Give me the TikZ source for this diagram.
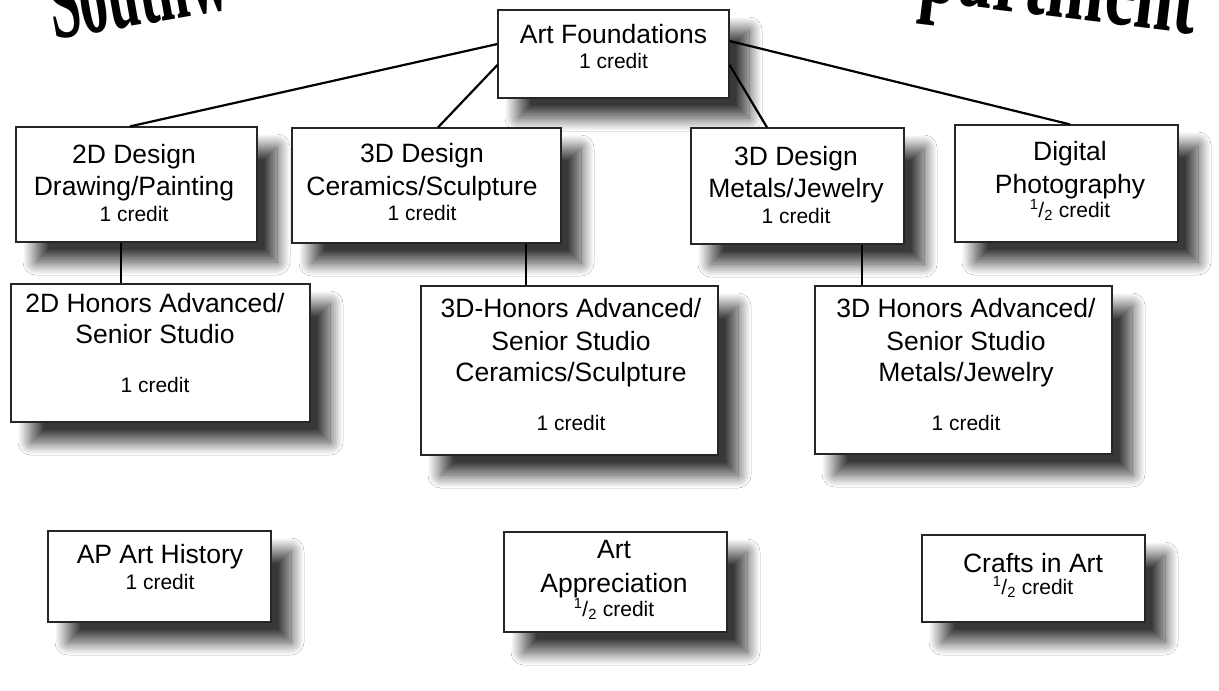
\documentclass[tikz,border=0pt]{standalone}
\usepackage{fontspec}
\usepackage{graphicx}
\setmainfont{Liberation Sans}
\newfontfamily\titlefont{Liberation Serif}
\usetikzlibrary{shadows.blur}
\newcommand\halfcr{\textsuperscript{1}/\textsubscript{2} credit}
\tikzset{
  box/.style={rectangle, draw=black!85, line width=1.2pt, fill=white, inner sep=0pt,
    blur shadow={shadow xshift=20pt, shadow yshift=-20pt, shadow blur radius=13pt, shadow blur steps=24, shadow opacity=78}},
  big/.style={anchor=base, inner sep=0pt, font=\fontsize{26.5}{30}\selectfont},
  small/.style={anchor=base, inner sep=0pt, font=\fontsize{21}{24}\selectfont},
  link/.style={line width=2.2pt, black},
  ttl/.style={inner sep=0pt, font=\titlefont\bfseries\fontsize{110}{110}\selectfont},
}
\begin{document}
\begin{tikzpicture}[x=1pt,y=-1pt]
\useasboundingbox (0,0) rectangle (1219,691);
\clip (0,0) rectangle (1219,691);
\fill[white] (0,0) rectangle (1219,691);

% title (clipped at top)
\node[ttl, anchor=base west, rotate=10] (titleL) at (54,40) {\scalebox{0.51}[1]{Southw}};
\node[ttl, anchor=base east, rotate=-7] (titleR) at (1194,34) {\scalebox{0.63}[1]{partment}};

% boxes
\node[box, minimum width=231pt, minimum height=88pt]  (af) at (613.5,54) {};
\node[box, minimum width=241pt, minimum height=115pt] (d2) at (136.5,184.5) {};
\node[box, minimum width=269pt, minimum height=115pt] (c3) at (426.5,185.5) {};
\node[box, minimum width=213pt, minimum height=116pt] (m3) at (797.5,186) {};
\node[box, minimum width=223pt, minimum height=117pt] (dp) at (1066.5,183.5) {};
\node[box, minimum width=299pt, minimum height=138pt] (h2) at (160.5,353) {};
\node[box, minimum width=297pt, minimum height=169pt] (hc) at (569.5,370.5) {};
\node[box, minimum width=297pt, minimum height=168pt] (hm) at (963.5,370) {};
\node[box, minimum width=223pt, minimum height=91pt]  (ap) at (159.5,576.5) {};
\node[box, minimum width=223pt, minimum height=100pt] (aa) at (615.5,582) {};
\node[box, minimum width=223pt, minimum height=87pt]  (ca) at (1033.5,578.5) {};

% texts
\node[big]   (afa) at (613.5,43) {Art Foundations};
\node[small] (afb) at (613.5,68) {1 credit};

\node[big]   (d2a) at (134,163) {2D Design};
\node[big]   (d2b) at (134,195) {Drawing/Painting};
\node[small] (d2c) at (134,221) {1 credit};

\node[big]   (c3a) at (422,162) {3D Design};
\node[big]   (c3b) at (422,195) {Ceramics/Sculpture};
\node[small] (c3c) at (422,220) {1 credit};

\node[big]   (m3a) at (796,165) {3D Design};
\node[big]   (m3b) at (796,197) {Metals/Jewelry};
\node[small] (m3c) at (796,223) {1 credit};

\node[big]   (dpa) at (1070,160) {Digital};
\node[big]   (dpb) at (1070,193) {Photography};
\node[small] (dpc) at (1070,217) {\halfcr};

\node[big]   (h2a) at (155,312) {2D Honors Advanced/};
\node[big]   (h2b) at (155,343) {Senior Studio};
\node[small] (h2c) at (155,392) {1 credit};

\node[big]   (hca) at (571,317) {3D-Honors Advanced/};
\node[big]   (hcb) at (571,350) {Senior Studio};
\node[big]   (hcc) at (571,381) {Ceramics/Sculpture};
\node[small] (hcd) at (571,430) {1 credit};

\node[big]   (hma) at (966,317) {3D Honors Advanced/};
\node[big]   (hmb) at (966,350) {Senior Studio};
\node[big]   (hmc) at (966,381) {Metals/Jewelry};
\node[small] (hmd) at (966,430) {1 credit};

\node[big]   (apa) at (160,563) {AP Art History};
\node[small] (apb) at (160,589) {1 credit};

\node[big]   (aaa) at (614,558) {Art};
\node[big]   (aab) at (614,592) {Appreciation};
\node[small] (aac) at (614,616) {\halfcr};

\node[big]   (caa) at (1033,572) {Crafts in Art};
\node[small] (cab) at (1033,594) {\halfcr};

% connectors
\draw[link] ([yshift=10pt]af.west) -- ([xshift=-6.5pt]d2.north);
\draw[link] ([yshift=-11pt]af.west) -- ([xshift=11.5pt]c3.north);
\draw[link] ([yshift=-11pt]af.east) -- ([xshift=-30.5pt]m3.north);
\draw[link] ([yshift=13pt]af.east) -- ([xshift=3.5pt]dp.north);
\draw[link] ([xshift=-15.5pt]d2.south) -- ([xshift=-15.5pt]d2.south |- h2.north);
\draw[link] ([xshift=99.5pt]c3.south) -- ([xshift=99.5pt]c3.south |- hc.north);
\draw[link] ([xshift=64.5pt]m3.south) -- ([xshift=64.5pt]m3.south |- hm.north);
\end{tikzpicture}
\end{document}
